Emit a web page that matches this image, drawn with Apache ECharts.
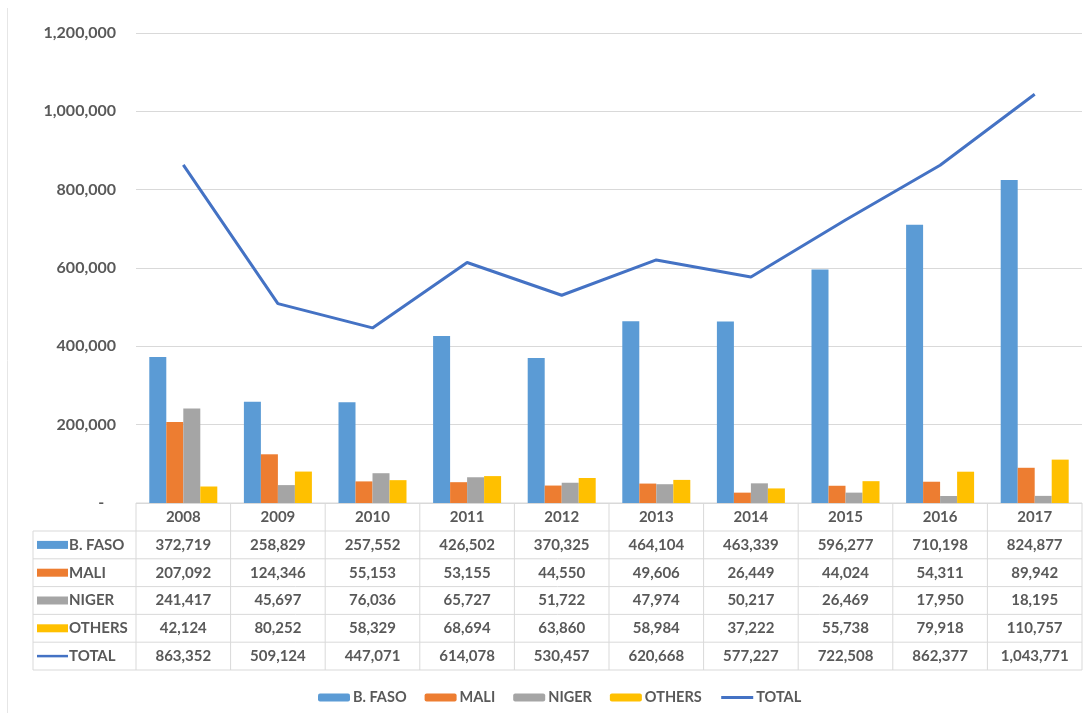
<!DOCTYPE html>
<html>
<head>
<meta charset="utf-8">
<script src="https://cdn.jsdelivr.net/npm/echarts@6/dist/echarts.min.js"></script>
<style>
  html, body { margin: 0; padding: 0; background: #fff; }
  #main { width: 1091px; height: 713px; }
</style>
</head>
<body>
<div id="main"></div>
<script>
// data
const years = ['2008', '2009', '2010', '2011', '2012', '2013', '2014', '2015', '2016', '2017'];
const bFaso = [372719, 258829, 257552, 426502, 370325, 464104, 463339, 596277, 710198, 824877];
const mali = [207092, 124346, 55153, 53155, 44550, 49606, 26449, 44024, 54311, 89942];
const niger = [241417, 45697, 76036, 65727, 51722, 47974, 50217, 26469, 17950, 18195];
const others = [42124, 80252, 58329, 68694, 63860, 58984, 37222, 55738, 79918, 110757];
const total = [863352, 509124, 447071, 614078, 530457, 620668, 577227, 722508, 862377, 1043771];

const seriesNames = ['B. FASO', 'MALI', 'NIGER', 'OTHERS', 'TOTAL'];
const colors = ['#5B9BD5', '#ED7D31', '#A5A5A5', '#FFC000', '#4472C4'];
const rows = [bFaso, mali, niger, others, total];

// layout
const GL = 136, GR = 1082, GT = 33, GB = 503;
const cw = (GR - GL) / years.length;
const rowTop = 531, rowH = 27.8;
const tableLeft = 33;
const txt = '#595959', line = '#d9d9d9';
const font = 'Lato, "Open Sans", sans-serif';

let fmt = v => v.toLocaleString('en-US');

let chart = echarts.init(document.getElementById('main'));

// data table under the plot
let table = [];
for (let i = 0; i <= years.length; i++) {
    table.push({ type: 'line', shape: { x1: GL + i * cw, y1: GB, x2: GL + i * cw, y2: rowTop + rows.length * rowH }, style: { stroke: line, lineWidth: 1 } });
}
table.push({ type: 'line', shape: { x1: tableLeft, y1: rowTop, x2: tableLeft, y2: rowTop + rows.length * rowH }, style: { stroke: line, lineWidth: 1 } });
table.push({ type: 'line', shape: { x1: GL, y1: GB, x2: GR, y2: GB }, style: { stroke: line, lineWidth: 1 } });
for (let r = 0; r <= rows.length; r++) {
    table.push({ type: 'line', shape: { x1: tableLeft, y1: rowTop + r * rowH, x2: GR, y2: rowTop + r * rowH }, style: { stroke: line, lineWidth: 1 } });
}
rows.forEach((vals, r) => {
    let cy = rowTop + (r + 0.5) * rowH;
    if (r < 4) {
        table.push({ type: 'rect', shape: { x: 37, y: cy - 4, width: 31, height: 8 }, style: { fill: colors[r] } });
    } else {
        table.push({ type: 'line', shape: { x1: 37, y1: cy, x2: 68, y2: cy }, style: { stroke: colors[r], lineWidth: 2.5 } });
    }
    table.push({ type: 'text', x: 69, y: cy, style: { text: seriesNames[r], fill: txt, font: 'bold 15px ' + font, textAlign: 'left', textVerticalAlign: 'middle' } });
    vals.forEach((v, j) => {
        table.push({ type: 'text', x: GL + (j + 0.5) * cw, y: cy, style: { text: fmt(v), fill: txt, font: 'bold 15px ' + font, textAlign: 'center', textVerticalAlign: 'middle' } });
    });
});
// faint page edge on the left
table.push({ type: 'line', shape: { x1: 7.5, y1: 8, x2: 7.5, y2: 713 }, style: { stroke: '#e6e6e6', lineWidth: 1 } });

let barSeries = [bFaso, mali, niger, others].map((d, i) => ({
    name: seriesNames[i],
    type: 'bar',
    data: d,
    barWidth: 17,
    barGap: '0%',
    itemStyle: { color: colors[i] }
}));

let legendData = seriesNames.map(n => n === 'TOTAL' ? { name: n, itemStyle: { opacity: 0 } } : n);

let option = {
    backgroundColor: '#fff',
    animation: false,
    textStyle: { fontFamily: font },
    grid: { left: GL, right: 1091 - GR, top: GT, bottom: 713 - GB, containLabel: false },
    legend: {
        data: legendData,
        left: 313,
        top: 685,
        itemWidth: 32,
        itemHeight: 8,
        itemGap: 18,
        lineStyle: { width: 3 },
        textStyle: { color: txt, fontSize: 14.5, fontWeight: 'bold', fontFamily: font, padding: [0, 0, 0, -2] }
    },
    xAxis: {
        type: 'category',
        data: years,
        axisLine: { show: false },
        axisTick: { show: false },
        axisLabel: { color: txt, fontSize: 15, fontWeight: 'bold', margin: 7 }
    },
    yAxis: {
        type: 'value',
        min: 0,
        max: 1200000,
        interval: 200000,
        axisLine: { show: false },
        axisTick: { show: false },
        splitLine: { lineStyle: { color: line, width: 1 } },
        axisLabel: {
            color: txt,
            fontSize: 16,
            fontWeight: 'bold',
            margin: 20,
            formatter: v => v === 0 ? '-   ' : fmt(v)
        }
    },
    series: barSeries.concat([{
        name: 'TOTAL',
        type: 'line',
        data: total,
        symbol: 'none',
        lineStyle: { color: colors[4], width: 3 },
        itemStyle: { color: colors[4] }
    }]),
    graphic: table
};

chart.setOption(option);
</script>
</body>
</html>
